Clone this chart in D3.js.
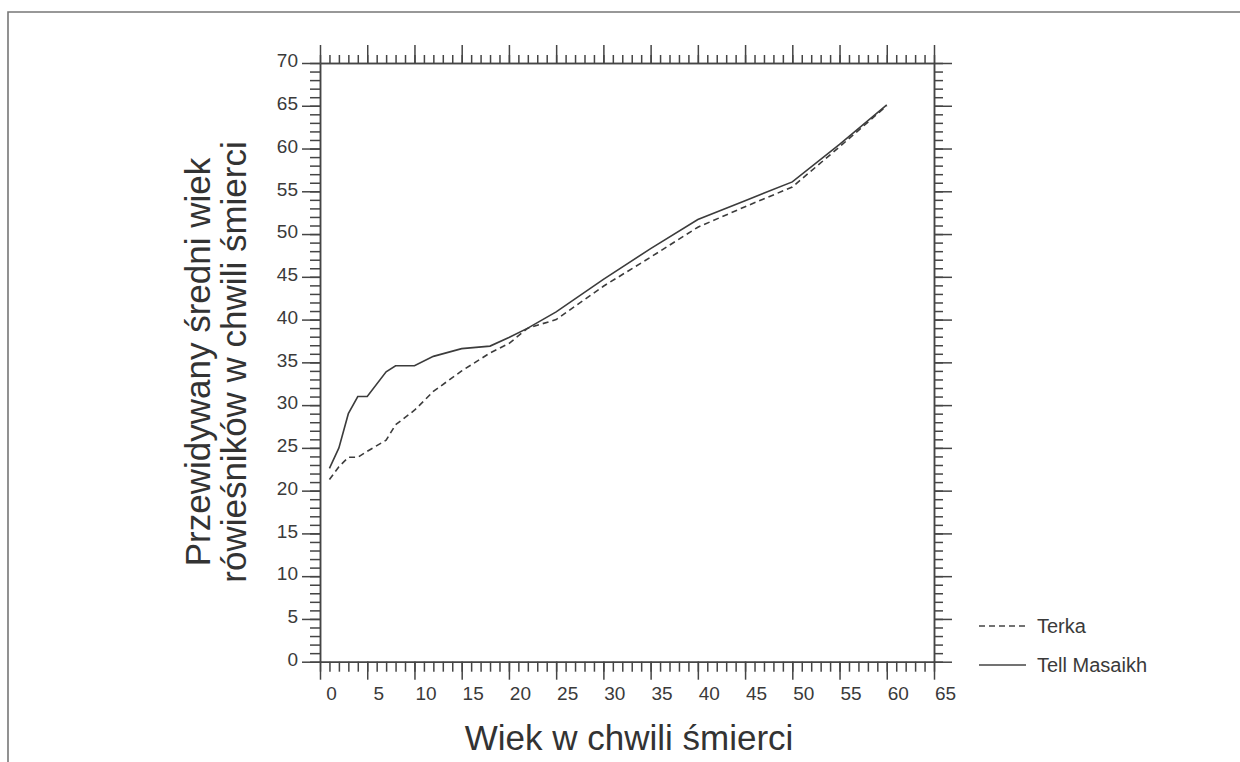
<!DOCTYPE html>
<html>
<head>
<meta charset="utf-8">
<script src="https://cdn.jsdelivr.net/npm/d3@7"></script>
<style>
  body { margin: 0; background: #fff; }
  svg { font-family: "Liberation Sans", Arial, sans-serif; }
</style>
</head>
<body>
<div id="wrapper"></div>
<script>
// ages at which the curves have a vertex
const agesEarly = [1, 2, 3, 4, 5, 7, 8, 10, 12, 15, 18, 20, 22, 25, 30, 35, 40, 45, 50, 55, 60];
const terkaValues = [21.3, 22.8, 23.9, 23.9, 24.6, 25.9, 27.7, 29.4, 31.6, 34.0, 36.1, 37.2, 39.0, 40.0, 43.9, 47.3, 50.8, 53.2, 55.5, 60.2, 65.0];
const masaikhValues = [22.6, 25.0, 29.0, 31.0, 31.0, 33.9, 34.6, 34.6, 35.7, 36.6, 36.9, 37.9, 39.0, 40.9, 44.7, 48.3, 51.7, 53.9, 56.1, 60.5, 65.1];

const xMajorTicks = d3.range(0, 66, 5);
const xMinorTicks = d3.range(0, 66, 1);
const yMajorTicks = d3.range(0, 71, 5);
const yMinorTicks = d3.range(0, 71, 1);

const seriesNames = ["Terka", "Tell Masaikh"];
const xTitle = "Wiek w chwili śmierci";
const yTitle = ["Przewidywany średni wiek", "rówieśników w chwili śmierci"];

const dimension = {
    width: 1240,
    height: 762,
    margin: { top: 63, left: 320, bottom: 100.3, right: 306 }
};
dimension.boundedWidth = dimension.width - dimension.margin.left - dimension.margin.right;
dimension.boundedHeight = dimension.height - dimension.margin.top - dimension.margin.bottom;

const ink = "#454545";

const svg = d3.select("#wrapper").append("svg")
    .attr("width", dimension.width)
    .attr("height", dimension.height);

// frame around the figure (top and left edges only visible)
svg.append("path")
    .attr("d", "M8,770 L8,12 L1240,12")
    .attr("fill", "none")
    .attr("stroke", "#777")
    .attr("stroke-width", 1.6);

const bounded = svg.append("g")
    .attr("transform", `translate(${dimension.margin.left},${dimension.margin.top})`);

const xScaler = d3.scaleLinear().domain([0, 65]).range([0, dimension.boundedWidth]);
const yScaler = d3.scaleLinear().domain([0, 70]).range([dimension.boundedHeight, 0]);

function styleAxis(g) {
    g.selectAll("path, line").attr("stroke", ink).attr("stroke-width", 1.5);
    g.selectAll("text").attr("fill", "#3a3a3a").style("font-size", "19px")
        .style("font-family", "'Liberation Sans', Arial, sans-serif");
}

// minor ticks on all four sides
bounded.append("g").attr("transform", `translate(0,${dimension.boundedHeight})`)
    .call(d3.axisBottom(xScaler).tickValues(xMinorTicks).tickSize(10).tickSizeOuter(0).tickFormat(""))
    .call(styleAxis);
bounded.append("g")
    .call(d3.axisTop(xScaler).tickValues(xMinorTicks).tickSize(8).tickSizeOuter(0).tickFormat(""))
    .call(styleAxis);
bounded.append("g")
    .call(d3.axisLeft(yScaler).tickValues(yMinorTicks).tickSize(10).tickSizeOuter(0).tickFormat(""))
    .call(styleAxis);
bounded.append("g").attr("transform", `translate(${dimension.boundedWidth},0)`)
    .call(d3.axisRight(yScaler).tickValues(yMinorTicks).tickSize(9).tickSizeOuter(0).tickFormat(""))
    .call(styleAxis);

// major ticks
const xAxis = bounded.append("g").attr("transform", `translate(0,${dimension.boundedHeight})`)
    .call(d3.axisBottom(xScaler).tickValues(xMajorTicks).tickSize(18).tickSizeOuter(0).tickPadding(7))
    .call(styleAxis);
xAxis.selectAll("text").attr("dx", 11);

bounded.append("g")
    .call(d3.axisTop(xScaler).tickValues(xMajorTicks).tickSize(18).tickSizeOuter(0).tickFormat(""))
    .call(styleAxis);

const yAxis = bounded.append("g")
    .call(d3.axisLeft(yScaler).tickValues(yMajorTicks).tickSize(18).tickSizeOuter(0).tickPadding(4))
    .call(styleAxis);
yAxis.selectAll("text").attr("dy", "0.2em");

bounded.append("g").attr("transform", `translate(${dimension.boundedWidth},0)`)
    .call(d3.axisRight(yScaler).tickValues(yMajorTicks).tickSize(18).tickSizeOuter(0).tickFormat(""))
    .call(styleAxis);

// curves
const terka = agesEarly.map((a, i) => ({ age: a, v: terkaValues[i] }));
const masaikh = agesEarly.map((a, i) => ({ age: a, v: masaikhValues[i] }));

const lineGenerator = d3.line()
    .x(d => xScaler(d.age))
    .y(d => yScaler(d.v));

bounded.append("path")
    .attr("fill", "none")
    .attr("stroke", "#3c3c3c")
    .attr("stroke-width", 1.6)
    .attr("stroke-dasharray", "6,4")
    .attr("d", lineGenerator(terka));

bounded.append("path")
    .attr("fill", "none")
    .attr("stroke", "#3c3c3c")
    .attr("stroke-width", 1.6)
    .attr("d", lineGenerator(masaikh));

// legend
const legend = svg.append("g").attr("transform", "translate(979,626)");
seriesNames.forEach((name, i) => {
    const row = legend.append("g").attr("transform", `translate(0,${i * 39})`);
    row.append("line")
        .attr("x1", 0).attr("x2", 47).attr("y1", 0).attr("y2", 0)
        .attr("stroke", "#444").attr("stroke-width", 1.5)
        .attr("stroke-dasharray", i === 0 ? "6,4" : null);
    row.append("text")
        .attr("x", 58).attr("y", 7)
        .attr("fill", "#3a3a3a")
        .style("font-size", "20px")
        .text(name);
});

// axis titles
svg.append("text")
    .attr("x", 629).attr("y", 750)
    .attr("text-anchor", "middle")
    .attr("fill", "#333")
    .style("font-size", "35px")
    .text(xTitle);

const yt = svg.append("text")
    .attr("transform", "translate(210,362) rotate(-90)")
    .attr("text-anchor", "middle")
    .attr("fill", "#333")
    .style("font-size", "35px");
yTitle.forEach((t, i) => {
    yt.append("tspan").attr("x", 0).attr("dy", i === 0 ? 0 : 36).text(t);
});
</script>
</body>
</html>
